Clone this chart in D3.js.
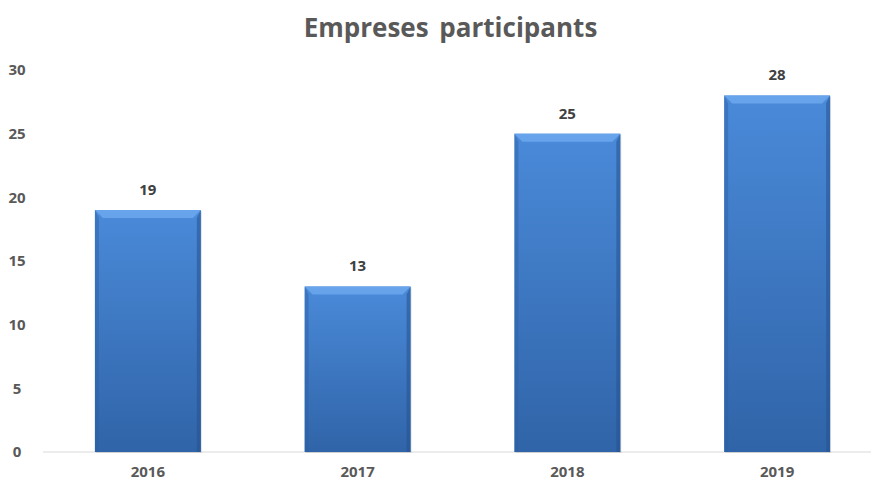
<!DOCTYPE html>
<html>
<head>
<meta charset="utf-8">
<script src="https://cdn.jsdelivr.net/npm/d3@7"></script>
<style>
  body { margin: 0; background: #fff; }
  text { font-family: "Open Sans", "Liberation Sans", sans-serif; }
</style>
</head>
<body>
<div id="chart"></div>
<script>
// chart data
const years = ["2016", "2017", "2018", "2019"];
const companies = [19, 13, 25, 28];
const yTicks = [0, 5, 10, 15, 20, 25, 30];
const title = "Empreses participants";

const width = 871, height = 483;
const margin = { top: 70, right: -11, bottom: 31, left: 43 };

const svg = d3.select("#chart")
  .append("svg")
  .attr("width", width)
  .attr("height", height);

// gradient for bars
const defs = svg.append("defs");
const grad = defs.append("linearGradient")
  .attr("id", "barGrad")
  .attr("x1", 0).attr("y1", 0).attr("x2", 0).attr("y2", 1);
grad.append("stop").attr("offset", "0%").attr("stop-color", "#4a8ad9");
grad.append("stop").attr("offset", "100%").attr("stop-color", "#3064a8");

const x = d3.scaleBand()
  .domain(years)
  .range([margin.left, width - margin.right])
  .paddingInner(0.495)
  .paddingOuter(0.2475);

const y = d3.scaleLinear()
  .domain([0, 30])
  .range([height - margin.bottom, margin.top]);

// title
svg.append("text")
  .attr("x", width / 2 + 15)
  .attr("y", 37)
  .attr("text-anchor", "middle")
  .attr("fill", "#595959")
  .style("font-size", "26px")
  .style("font-weight", "bold")
  .style("word-spacing", "4px")
  .text(title);

// y axis labels
svg.append("g")
  .selectAll("text")
  .data(yTicks)
  .join("text")
  .attr("x", 17)
  .attr("y", d => y(d))
  .attr("dy", "0.35em")
  .attr("text-anchor", "middle")
  .attr("fill", "#595959")
  .style("font-size", "15px")
  .style("font-weight", "bold")
  .text(d => d);

// baseline
svg.append("line")
  .attr("x1", margin.left).attr("x2", width)
  .attr("y1", y(0)).attr("y2", y(0))
  .attr("stroke", "#d9d9d9")
  .attr("stroke-width", 1.2);

// bars
const bars = svg.append("g")
  .selectAll("g")
  .data(years.map((yr, i) => ({ yr, v: companies[i] })))
  .join("g");

// soft shadow
bars.append("rect")
  .attr("x", d => x(d.yr) + 1)
  .attr("y", d => y(d.v) + 1)
  .attr("width", x.bandwidth())
  .attr("height", d => y(0) - y(d.v))
  .attr("fill", "#000")
  .attr("opacity", 0.12);

bars.append("rect")
  .attr("x", d => x(d.yr))
  .attr("y", d => y(d.v))
  .attr("width", x.bandwidth())
  .attr("height", d => y(0) - y(d.v))
  .attr("fill", "url(#barGrad)");

const bev = 8;
// top bevel (lighter)
bars.append("polygon")
  .attr("points", d => {
    const x0 = x(d.yr), x1 = x0 + x.bandwidth(), t = y(d.v);
    return [[x0, t], [x1, t], [x1 - bev, t + bev], [x0 + bev, t + bev]].join(" ");
  })
  .attr("fill", "#6aa6ec")
  .attr("opacity", 0.9);

// side bevels (darker)
bars.append("polygon")
  .attr("points", d => {
    const x0 = x(d.yr), t = y(d.v), b = y(0);
    return [[x0, t], [x0 + bev * 0.5, t + bev], [x0 + bev * 0.5, b], [x0, b]].join(" ");
  })
  .attr("fill", "#2d5fa3")
  .attr("opacity", 0.45);

bars.append("polygon")
  .attr("points", d => {
    const x1 = x(d.yr) + x.bandwidth(), t = y(d.v), b = y(0);
    return [[x1, t], [x1 - bev * 0.5, t + bev], [x1 - bev * 0.5, b], [x1, b]].join(" ");
  })
  .attr("fill", "#24528f")
  .attr("opacity", 0.55);

// value labels
bars.append("text")
  .attr("x", d => x(d.yr) + x.bandwidth() / 2)
  .attr("y", d => y(d.v) - 15)
  .attr("text-anchor", "middle")
  .attr("fill", "#404040")
  .style("font-size", "15px")
  .style("font-weight", "bold")
  .text(d => d.v);

// category labels
svg.append("g")
  .selectAll("text")
  .data(years)
  .join("text")
  .attr("x", d => x(d) + x.bandwidth() / 2)
  .attr("y", 477)
  .attr("text-anchor", "middle")
  .attr("fill", "#595959")
  .style("font-size", "15px")
  .style("font-weight", "bold")
  .text(d => d);
</script>
</body>
</html>
